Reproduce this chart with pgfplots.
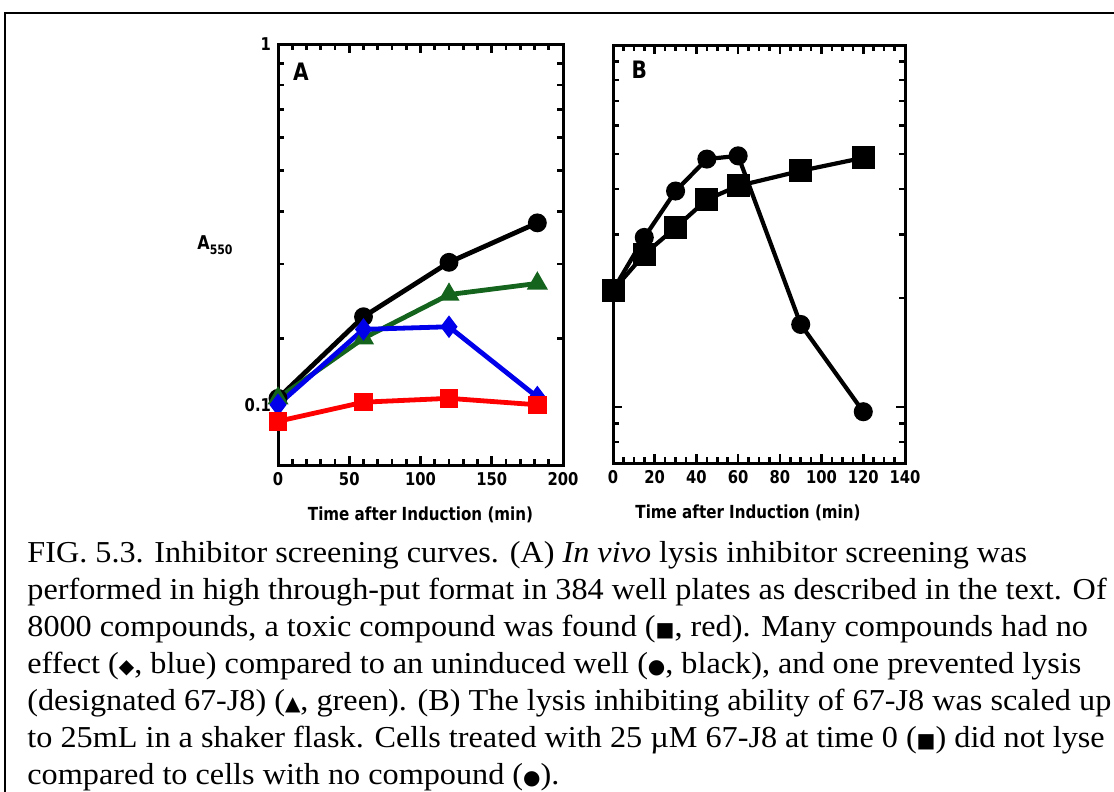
\documentclass[border=0pt]{standalone}
\usepackage{fontspec}
\setmainfont{Liberation Serif}[FakeStretch=1.06]
\newfontfamily\plotfont{DejaVu Sans}[FakeStretch=0.84]
\newfontfamily\symfont{DejaVu Sans}
\usepackage{pgfplots}
\pgfplotsset{compat=1.18}

\definecolor{tox}{RGB}{255,0,0}
\definecolor{noeff}{RGB}{0,0,235}
\definecolor{inhib}{RGB}{20,100,30}

\pgfplotsset{
  panel/.style={
    scale only axis,
    anchor=north west,
    axis line style={line width=1.5pt},
    tick align=inside,
    xtick pos=both, ytick pos=both,
    major tick length=4.5pt,
    minor tick length=3pt,
    every tick/.style={line width=1.3pt,black},
    /pgf/number format/assume math mode=true,
    tick label style={font=\plotfont\bfseries\fontsize{8.8}{9}\selectfont},
    xlabel style={font=\plotfont\bfseries\fontsize{9}{10}\selectfont, yshift=-4pt},
    clip=false,
  },
  every axis plot/.append style={line width=2.4pt},
}

\newcommand{\sym}[1]{{\symfont\fontsize{10}{10}\selectfont #1}}

\begin{document}
\begin{tikzpicture}
\useasboundingbox (0,0) rectangle (557pt,-396pt);
\draw[line width=1pt] (2.5pt,-6.5pt) rectangle (600pt,-450pt);

% panel A
\begin{axis}[panel,
  at={(139pt,-22pt)}, width=142.5pt, height=210.5pt,
  xmin=0, xmax=200, xtick={0,50,...,200}, minor x tick num=4,
  ymode=log, ymin=0.1, ymax=1,
  ytick={1}, yticklabels={1},
  minor ytick={0.2,0.3,0.4,0.5,0.6,0.7,0.8,0.9},
  extra y ticks={0.1389}, extra y tick labels={0.1},
  extra y tick style={major tick length=0pt},
  xlabel={Time after Induction (min)},
]
\addplot[black, mark=*, mark size=3.5pt] coordinates {
  (0,0.144) (60,0.225) (120,0.303) (182,0.376)};
\addplot[inhib, mark=triangle*, mark size=3.7pt] coordinates {
  (0,0.144) (60,0.200) (120,0.254) (182,0.270)};
\addplot[noeff, mark=diamond*, mark size=3.7pt] coordinates {
  (0,0.139) (60,0.210) (120,0.213) (182,0.145)};
\addplot[tox, mark=square*, mark size=3.4pt] coordinates {
  (0,0.127) (60,0.141) (120,0.144) (182,0.139)};
\node[font=\plotfont\bfseries\fontsize{12}{12}\selectfont] at (rel axis cs:0.08,0.933) {A};
\end{axis}
\node[font=\plotfont\bfseries\fontsize{9.5}{10}\selectfont] at (107.5pt,-122.5pt)
  {A\raisebox{-2.5pt}{\fontsize{6.5}{6}\selectfont 550}};

% panel B
\begin{axis}[panel,
  at={(306.5pt,-22.5pt)}, width=146pt, height=209pt,
  xmin=0, xmax=140, xtick={0,20,...,140}, minor x tick num=3,
  ymode=log, ymin=0.07, ymax=1,
  ytick={0.1}, yticklabels={},
  minor ytick={0.08,0.09,0.2,0.3,0.4,0.5,0.6,0.7,0.8,0.9},
  xlabel={Time after Induction (min)},
  xlabel style={xshift=-5.5pt},
  every axis plot/.append style={line width=2.1pt},
]
\addplot[black, mark=*, mark size=3.7pt] coordinates {
  (0,0.21) (15,0.294) (30,0.395) (45,0.484) (60,0.494) (90,0.169) (120,0.097)};
\addplot[black, mark=square*, mark size=4.7pt] coordinates {
  (0,0.21) (15,0.264) (30,0.313) (45,0.374) (60,0.408) (90,0.449) (120,0.488)};
\node[font=\plotfont\bfseries\fontsize{12}{12}\selectfont] at (rel axis cs:0.09,0.94) {B};
\end{axis}

% caption
\begin{scope}[every node/.style={anchor=base west, inner sep=0pt, font=\fontsize{15.2}{18}\selectfont}]
\node at (13.5pt,-281pt) {FIG. 5.3. Inhibitor screening curves. (A) \textit{In vivo} lysis inhibitor screening was};
\node at (13.5pt,-299.5pt) {performed in high through-put format in 384 well plates as described in the text. Of};
\node at (13.5pt,-318pt) {8000 compounds, a toxic compound was found (\sym{■}, red). Many compounds had no};
\node at (13.5pt,-336.5pt) {effect (\sym{◆}, blue) compared to an uninduced well (\sym{●}, black), and one prevented lysis};
\node at (13.5pt,-355pt) {(designated 67-J8) (\sym{▲}, green). (B) The lysis inhibiting ability of 67-J8 was scaled up};
\node at (13.5pt,-373.5pt) {to 25mL in a shaker flask. Cells treated with 25 µM 67-J8 at time 0 (\sym{■}) did not lyse};
\node at (13.5pt,-392pt) {compared to cells with no compound (\sym{●}).};
\end{scope}
\end{tikzpicture}
\end{document}
